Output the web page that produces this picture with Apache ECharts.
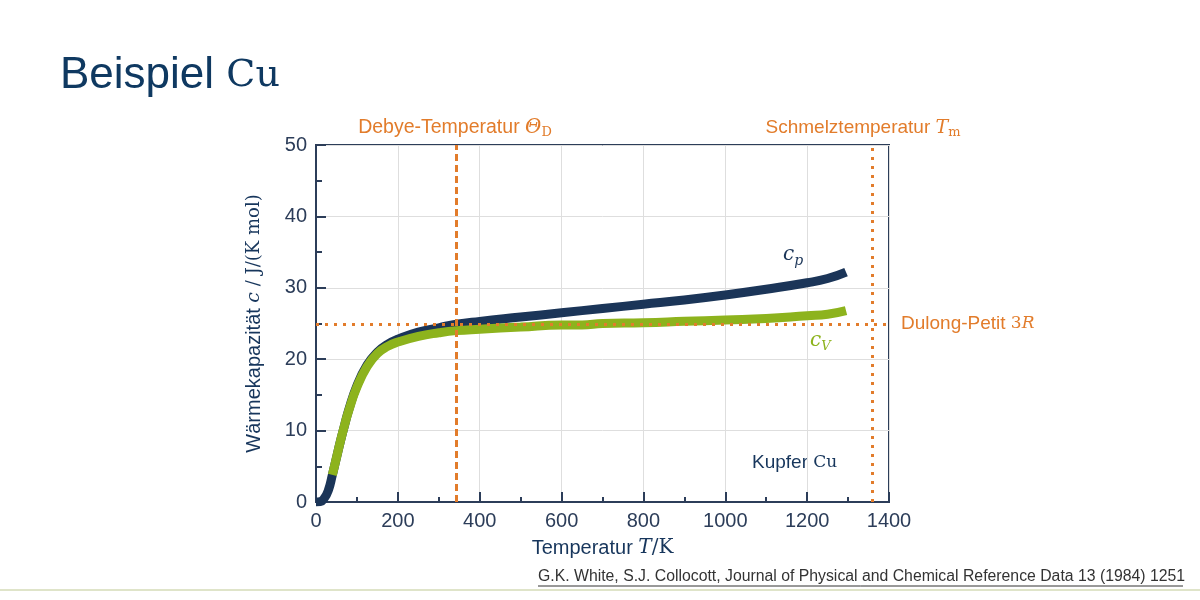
<!DOCTYPE html>
<html>
<head>
<meta charset="utf-8">
<script src="https://cdn.jsdelivr.net/npm/echarts@6/dist/echarts.min.js"></script>
<style>
  html, body { margin: 0; padding: 0; background: #ffffff; }
  #chart { width: 1200px; height: 600px; }
</style>
</head>
<body>
<div id="chart"></div>
<script>
// data
const cpTemps = [0, 10, 20, 30, 40, 50, 60, 70, 80, 100, 125, 150, 175, 200, 250, 300, 343, 400, 500, 600, 700, 800, 900, 1000, 1100, 1200, 1250, 1295];
const cpValues = [0, 0.05, 0.5, 1.6, 3.8, 6.2, 8.6, 10.8, 12.9, 16.3, 19.2, 21.0, 22.1, 22.8, 23.8, 24.4, 24.9, 25.3, 25.9, 26.5, 27.1, 27.7, 28.3, 29.0, 29.8, 30.7, 31.3, 32.2];
const cvTemps = [40, 50, 60, 70, 80, 100, 125, 150, 175, 200, 250, 300, 343, 400, 500, 600, 650, 700, 800, 900, 1000, 1100, 1200, 1250, 1295];
const cvValues = [3.8, 6.2, 8.6, 10.8, 12.8, 16.1, 19.0, 20.8, 21.8, 22.4, 23.2, 23.7, 24.0, 24.2, 24.5, 24.8, 24.8, 25.0, 25.1, 25.3, 25.5, 25.7, 26.1, 26.3, 26.8];
const debyeTemp = [343];
const meltTemp = [1358];
const dulongPetit = [24.94];
const xTicks = [0, 1400, 200];
const yTicks = [0, 50, 10];

const navy = '#1b3558';
const green = '#8db31d';
const orange = '#e27c2b';
const axisColor = '#2c3d59';
const textColor = '#17365c';

const sans = 'Liberation Sans';
const serif = 'DejaVu Serif';

const chart = echarts.init(document.getElementById('chart'));

const pair = (xs, ys) => xs.map((x, i) => [x, ys[i]]);

chart.setOption({
    animation: false,
    backgroundColor: '#ffffff',
    grid: {
        left: 316, right: 311, top: 145, bottom: 98,
        show: true, borderColor: axisColor, borderWidth: 2
    },
    xAxis: {
        type: 'value',
        min: xTicks[0], max: xTicks[1], interval: xTicks[2],
        axisLine: { lineStyle: { color: axisColor, width: 2 } },
        axisTick: { inside: true, length: 10, lineStyle: { color: axisColor, width: 2 } },
        minorTick: { show: true, splitNumber: 2, length: 5, lineStyle: { color: axisColor, width: 2 } },
        splitLine: { lineStyle: { color: '#dedede', width: 1 } },
        axisLabel: { color: axisColor, fontSize: 20, fontFamily: sans, margin: 9, formatter: v => String(v) },
        name: '{a|Temperatur }{i|T}{s|/K}',
        nameLocation: 'middle',
        nameGap: 36,
        nameTextStyle: {
            rich: {
                a: { fontFamily: sans, fontSize: 20, color: textColor },
                i: { fontFamily: serif, fontStyle: 'italic', fontSize: 20, color: textColor },
                s: { fontFamily: serif, fontSize: 20, color: textColor }
            }
        }
    },
    yAxis: {
        type: 'value',
        min: yTicks[0], max: yTicks[1], interval: yTicks[2],
        axisLine: { show: true, lineStyle: { color: axisColor, width: 2 } },
        axisTick: { show: true, inside: true, length: 10, lineStyle: { color: axisColor, width: 2 } },
        minorTick: { show: true, splitNumber: 2, length: 6, lineStyle: { color: axisColor, width: 2 } },
        splitLine: { lineStyle: { color: '#dedede', width: 1 } },
        axisLabel: { color: axisColor, fontSize: 20, fontFamily: sans, margin: 9 },
        name: '{a|Wärmekapazität }{i|c}{s| / J/(K mol)}',
        nameLocation: 'middle',
        nameRotate: 90,
        nameGap: 52,
        nameTextStyle: {
            rich: {
                a: { fontFamily: sans, fontSize: 20, color: textColor },
                i: { fontFamily: serif, fontStyle: 'italic', fontSize: 19, color: textColor },
                s: { fontFamily: serif, fontSize: 18, color: textColor }
            }
        }
    },
    series: [
        {
            type: 'line', data: [], z: 1, silent: true,
            markLine: {
                silent: true, symbol: 'none', animation: false,
                label: { show: false },
                lineStyle: { color: orange, width: 3, type: [3, 6], cap: 'butt' },
                data: dulongPetit.map(v => ({ yAxis: v }))
            }
        },
        {
            name: 'cp', type: 'line', z: 2, smooth: true, showSymbol: false,
            lineStyle: { color: navy, width: 9, cap: 'butt' },
            data: pair(cpTemps, cpValues)
        },
        {
            name: 'cv', type: 'line', z: 3, smooth: true, showSymbol: false,
            lineStyle: { color: green, width: 9, cap: 'butt' },
            data: pair(cvTemps, cvValues)
        },
        {
            type: 'line', data: [], z: 4, silent: true,
            markLine: {
                silent: true, symbol: 'none', animation: false,
                label: { show: false },
                data: [
                    { xAxis: debyeTemp[0], lineStyle: { color: orange, width: 3, type: [7, 4] } },
                    { xAxis: meltTemp[0], lineStyle: { color: orange, width: 3, type: [3, 6], cap: 'butt' } }
                ]
            }
        }
    ],
    graphic: [
        {
            type: 'text', left: 60, top: 54,
            style: {
                text: '{a|Beispiel }{b|Cu}',
                rich: {
                    a: { fontFamily: sans, fontSize: 44, fill: '#0f3961' },
                    b: { fontFamily: serif, fontSize: 38, fill: '#0f3961' }
                }
            }
        },
        {
            type: 'text', x: 455, y: 128,
            style: {
                text: '{a|Debye-Temperatur }{i|Θ}{s|D}',
                align: 'center', verticalAlign: 'middle',
                rich: {
                    a: { fontFamily: sans, fontSize: 19.5, fill: orange },
                    i: { fontFamily: serif, fontStyle: 'italic', fontSize: 20, fill: orange },
                    s: { fontFamily: serif, fontSize: 13, fill: orange, padding: [9, 0, 0, 0] }
                }
            }
        },
        {
            type: 'text', x: 863, y: 128,
            style: {
                text: '{a|Schmelztemperatur }{i|T}{s|m}',
                align: 'center', verticalAlign: 'middle',
                rich: {
                    a: { fontFamily: sans, fontSize: 19, fill: orange },
                    i: { fontFamily: serif, fontStyle: 'italic', fontSize: 19, fill: orange },
                    s: { fontFamily: serif, fontSize: 13, fill: orange, padding: [9, 0, 0, 0] }
                }
            }
        },
        {
            type: 'text', x: 901, y: 324,
            style: {
                text: '{a|Dulong-Petit }{b|3}{i|R}',
                verticalAlign: 'middle',
                rich: {
                    a: { fontFamily: sans, fontSize: 19, fill: orange },
                    b: { fontFamily: serif, fontSize: 17, fill: orange },
                    i: { fontFamily: serif, fontStyle: 'italic', fontSize: 17, fill: orange }
                }
            }
        },
        {
            type: 'text', x: 783, y: 255,
            style: {
                text: '{i|c}{s|p}',
                verticalAlign: 'middle',
                rich: {
                    i: { fontFamily: serif, fontStyle: 'italic', fontSize: 20, fill: navy },
                    s: { fontFamily: serif, fontStyle: 'italic', fontSize: 14, fill: navy, padding: [12, 0, 0, 0] }
                }
            }
        },
        {
            type: 'text', x: 810, y: 341,
            style: {
                text: '{i|c}{s|V}',
                verticalAlign: 'middle',
                rich: {
                    i: { fontFamily: serif, fontStyle: 'italic', fontSize: 20, fill: green },
                    s: { fontFamily: serif, fontStyle: 'italic', fontSize: 13, fill: green, padding: [12, 0, 0, 0] }
                }
            }
        },
        {
            type: 'text', x: 752, y: 463,
            style: {
                text: '{a|Kupfer }{b|Cu}',
                verticalAlign: 'middle',
                rich: {
                    a: { fontFamily: sans, fontSize: 19, fill: textColor },
                    b: { fontFamily: serif, fontSize: 17, fill: textColor }
                }
            }
        },
        {
            type: 'text', x: 538, y: 577,
            style: {
                text: 'G.K. White, S.J. Collocott, Journal of Physical and Chemical Reference Data 13 (1984) 1251',
                verticalAlign: 'middle',
                fontFamily: sans, fontSize: 15.8, fill: '#333333'
            }
        },
        {
            type: 'line',
            shape: { x1: 538, y1: 586, x2: 1183, y2: 586 },
            style: { stroke: '#333333', lineWidth: 1 }
        },
        {
            type: 'line',
            shape: { x1: 0, y1: 590, x2: 1200, y2: 590 },
            style: { stroke: '#dfe4c9', lineWidth: 2 }
        }
    ]
});
</script>
</body>
</html>
